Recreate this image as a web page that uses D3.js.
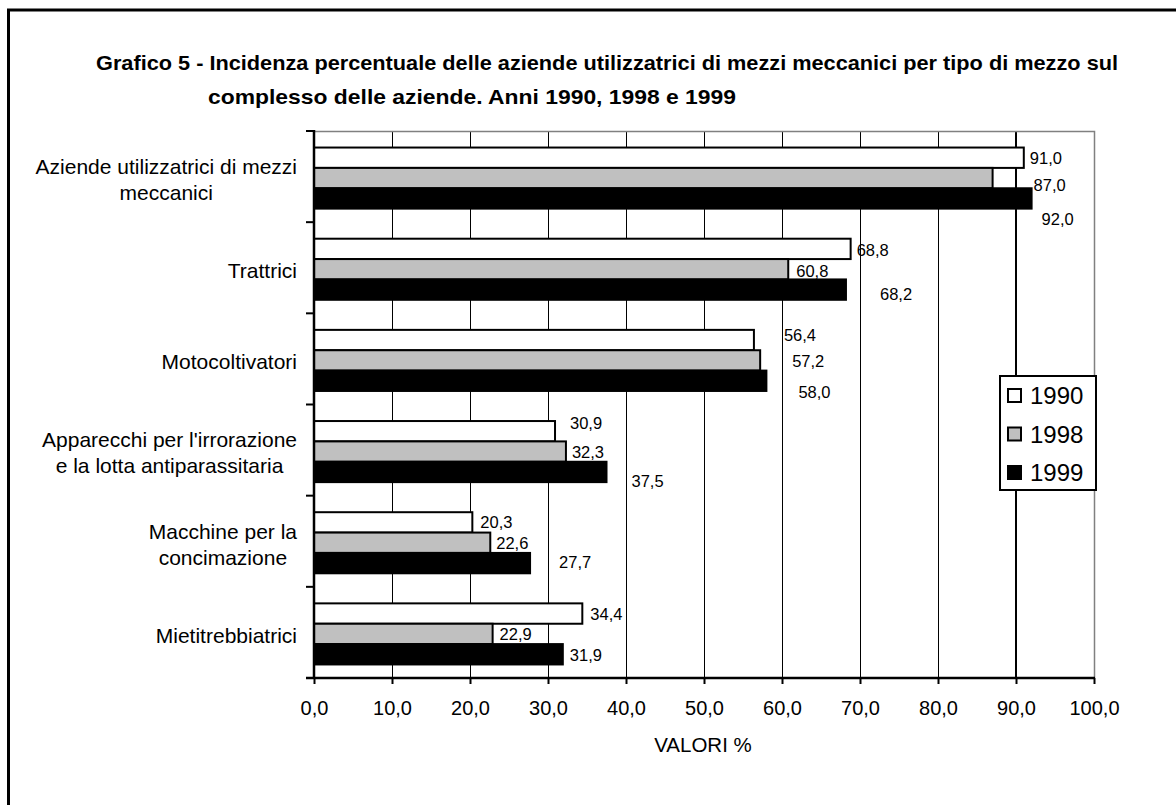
<!DOCTYPE html>
<html>
<head>
<meta charset="utf-8">
<script src="https://cdn.jsdelivr.net/npm/d3@7"></script>
<style>
  html, body { margin: 0; padding: 0; background: #fff; }
  svg { display: block; font-family: "Liberation Sans", Arial, sans-serif; }
</style>
</head>
<body>
<svg id="chart" width="1176" height="805"></svg>
<script>
// Categories (each entry holds the label lines)
const categories = [
  ["Aziende utilizzatrici di mezzi", "meccanici"],
  ["Trattrici"],
  ["Motocoltivatori"],
  ["Apparecchi per l'irrorazione", "e la lotta antiparassitaria"],
  ["Macchine per la", "concimazione"],
  ["Mietitrebbiatrici"]
];
const years = ["1990", "1998", "1999"];
const values1990 = [91.0, 68.8, 56.4, 30.9, 20.3, 34.4];
const values1998 = [87.0, 60.8, 57.2, 32.3, 22.6, 22.9];
const values1999 = [92.0, 68.2, 58.0, 37.5, 27.7, 31.9];
const xTickValues = [0, 10, 20, 30, 40, 50, 60, 70, 80, 90, 100];

// Value-label nudges [dx, dy] per series, relative to the bar end
const labelNudge1990 = [[6, 1], [6, 1], [30, -5], [15, -8], [8, 0], [8, 1]];
const labelNudge1998 = [[41, 7], [8, 2], [32, 1], [6, 1], [6, 0], [7, 0]];
const labelNudge1999 = [[10, 21], [34, 5], [32, 11], [25, 9], [29, -1], [7, 1]];

const seriesValues = [values1990, values1998, values1999];
const seriesNudge = [labelNudge1990, labelNudge1998, labelNudge1999];
const fills = ["#ffffff", "#c0c0c0", "#000000"];

const svg = d3.select("#chart");
const fmt = v => d3.format(".1f")(v).replace(".", ",");

// Outer frame
svg.append("rect")
  .attr("x", 8.5).attr("y", 10).attr("width", 1300).attr("height", 1000)
  .attr("fill", "none").attr("stroke", "#000").attr("stroke-width", 3);

// Title
const title = svg.append("text")
  .attr("font-weight", "bold").attr("font-size", 21).attr("fill", "#000");
title.append("tspan").attr("x", 96).attr("y", 70)
  .attr("textLength", 1022).attr("lengthAdjust", "spacingAndGlyphs")
  .text("Grafico 5 - Incidenza percentuale delle aziende utilizzatrici di mezzi meccanici per tipo di mezzo sul");
title.append("tspan").attr("x", 208).attr("y", 104)
  .attr("textLength", 528).attr("lengthAdjust", "spacingAndGlyphs")
  .text("complesso delle aziende. Anni 1990, 1998 e 1999");

const plot = { left: 314, right: 1094, top: 131, bottom: 678 };

const x = d3.scaleLinear().domain([0, 100]).range([plot.left, plot.right]);
const y = d3.scaleBand().domain(d3.range(categories.length)).range([plot.top, plot.bottom]);
const groupH = y.bandwidth() * 0.67;
const groupOffset = (y.bandwidth() - groupH) / 2 + 1.5;
const ySeries = d3.scaleBand().domain(d3.range(years.length)).range([0, groupH]);

// Vertical gridlines
svg.append("g").selectAll("line")
  .data(xTickValues.filter(v => v > 0 && v < 100))
  .join("line")
  .attr("x1", d => x(d)).attr("x2", d => x(d))
  .attr("y1", plot.top).attr("y2", plot.bottom)
  .attr("stroke", "#000").attr("stroke-width", d => d === 90 ? 2 : 1)
  .attr("shape-rendering", "crispEdges");

// Plot area border (top and right)
svg.append("path")
  .attr("d", `M${plot.left},${plot.top + 0.5}H${plot.right + 0.5}V${plot.bottom}`)
  .attr("fill", "none").attr("stroke", "#808080").attr("stroke-width", 1.5);

// Bars
const groups = svg.append("g").selectAll("g")
  .data(categories.map((c, i) => i))
  .join("g")
  .attr("transform", i => `translate(0,${y(i) + groupOffset})`);

groups.selectAll("rect")
  .data(i => seriesValues.map((vals, s) => ({ s, v: vals[i] })))
  .join("rect")
  .attr("x", x(0))
  .attr("y", d => ySeries(d.s))
  .attr("width", d => x(d.v) - x(0))
  .attr("height", ySeries.bandwidth())
  .attr("fill", d => fills[d.s])
  .attr("stroke", "#000").attr("stroke-width", 2);

// Value labels
groups.selectAll("text")
  .data(i => seriesValues.map((vals, s) => ({ s, v: vals[i], n: seriesNudge[s][i] })))
  .join("text")
  .attr("x", d => x(d.v) + d.n[0])
  .attr("y", d => ySeries(d.s) + ySeries.bandwidth() / 2 + d.n[1])
  .attr("dy", "0.35em")
  .attr("font-size", 16.5)
  .attr("fill", "#000")
  .text(d => fmt(d.v));

// X axis
const xAxis = d3.axisBottom(x).tickValues(xTickValues).tickSize(6).tickFormat(fmt);
const gx = svg.append("g").attr("transform", `translate(0,${plot.bottom})`).call(xAxis);
gx.select(".domain").attr("stroke", "#000").attr("stroke-width", 2.5)
  .attr("d", `M${plot.left - 8},0H${plot.right + 1}`);
gx.selectAll(".tick line").attr("stroke", "#000").attr("stroke-width", 2);
gx.selectAll(".tick text").attr("font-size", 20).attr("font-family", "Liberation Sans, Arial, sans-serif")
  .attr("fill", "#000").attr("y", 37).attr("dy", 0);

svg.append("text")
  .attr("x", 703).attr("y", 752).attr("text-anchor", "middle")
  .attr("font-size", 20.5).attr("fill", "#000").text("VALORI %");

// Y axis line with boundary ticks
const boundaries = d3.range(categories.length + 1).map(i => plot.top + i * y.step());
svg.append("line")
  .attr("x1", plot.left).attr("x2", plot.left)
  .attr("y1", plot.top - 1).attr("y2", plot.bottom)
  .attr("stroke", "#000").attr("stroke-width", 2.5);
svg.append("g").selectAll("line")
  .data(boundaries)
  .join("line")
  .attr("x1", plot.left - 8).attr("x2", plot.left)
  .attr("y1", d => d).attr("y2", d => d)
  .attr("stroke", "#000").attr("stroke-width", 2);

// Category labels: lines centered within a block that is right-aligned to the axis
const catG = svg.append("g").attr("font-size", 21).attr("fill", "#000");
categories.forEach((lines, i) => {
  const t = catG.append("text").attr("text-anchor", "middle");
  const lineH = 26;
  const cy = y(i) + y.bandwidth() / 2 + 3;
  const spans = lines.map((ln, k) => t.append("tspan")
    .attr("y", cy + (k - (lines.length - 1) / 2) * lineH)
    .attr("dy", "0.35em").text(ln));
  const maxW = d3.max(spans, s => s.node().getComputedTextLength());
  spans.forEach(s => s.attr("x", 297 - maxW / 2));
});

// Legend
const legend = svg.append("g").attr("transform", "translate(1000,376)");
legend.append("rect")
  .attr("x", 0).attr("y", 0).attr("width", 96).attr("height", 114)
  .attr("fill", "#fff").attr("stroke", "#000").attr("stroke-width", 2);
years.forEach((yr, s) => {
  const cy = 19 + s * 38.5;
  legend.append("rect")
    .attr("x", 8).attr("y", cy - 6).attr("width", 13).attr("height", 13)
    .attr("fill", fills[s]).attr("stroke", "#000").attr("stroke-width", 2);
  legend.append("text")
    .attr("x", 30).attr("y", cy + 1).attr("dy", "0.35em")
    .attr("font-size", 24).attr("fill", "#000").text(yr);
});
</script>
</body>
</html>
